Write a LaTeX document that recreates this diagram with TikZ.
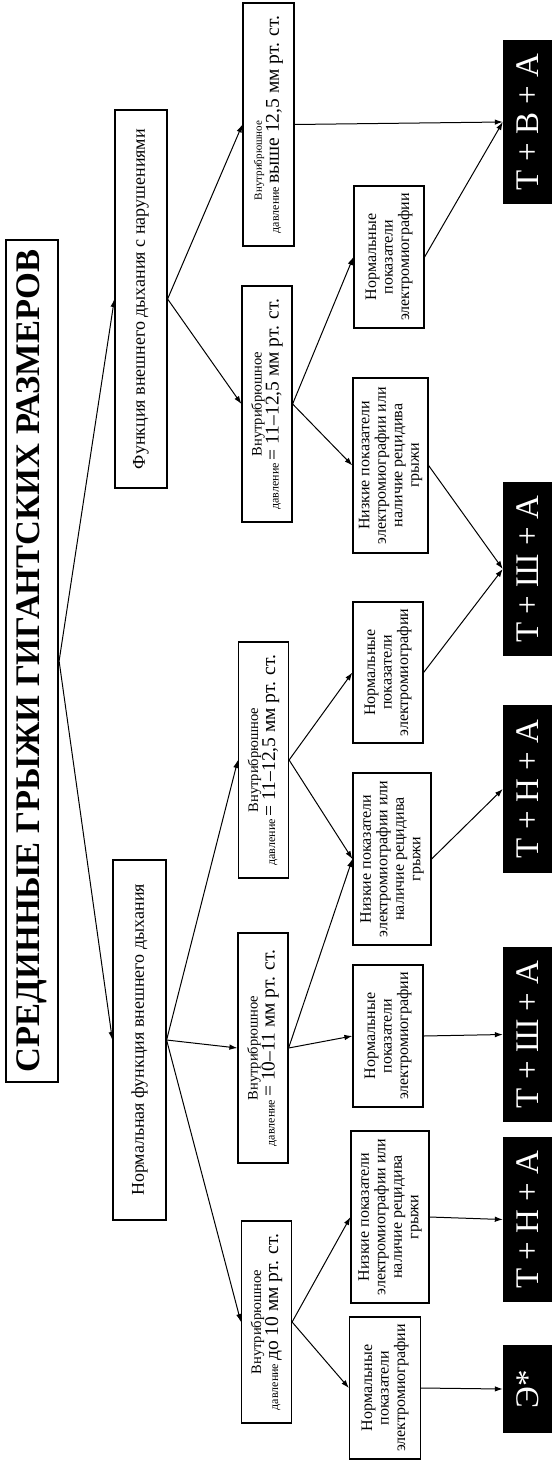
\documentclass[tikz,border=0pt]{standalone}
\usepackage{fontspec}
\setmainfont{Liberation Serif}
\usetikzlibrary{arrows.meta}
\newcommand{\bigpart}[1]{{\fontsize{19.5}{17}\selectfont #1}}
\newcommand{\vnutr}{{\fontsize{14.5}{17}\selectfont Внутрибрюшное}}
\begin{document}
\begin{tikzpicture}[x=1pt,y=-1pt,
  bx/.style={draw,line width=1.2pt,rotate=90,inner sep=0pt,align=center},
  ttl/.style={bx,line width=2.2pt,font=\fontsize{34.5}{35}\selectfont\bfseries},
  lone/.style={bx,font=\fontsize{18}{20}\selectfont},
  ltwo/.style={bx,font=\fontsize{12}{17}\selectfont},
  lthree/.style={bx,font=\fontsize{16}{16.5}\selectfont},
  res/.style={fill=black,text=white,rotate=90,inner sep=0pt,minimum height=49pt,font=\fontsize{33}{33}\selectfont},
  arr/.style={line width=1pt,-{Latex[length=8pt,width=5.5pt]}}]
\useasboundingbox (0,0) rectangle (552,1461);

% title
\node[ttl,minimum width=842pt,minimum height=52pt] (title) at (32,661) {СРЕДИННЫЕ ГРЫЖИ ГИГАНТСКИХ РАЗМЕРОВ};

% level 1
\node[lone,minimum width=378pt,minimum height=52pt] (f1) at (141,299) {Функция внешнего дыхания с нарушениями};
\node[lone,minimum width=360pt,minimum height=53pt] (f2) at (139.5,1040) {Нормальная функция внешнего дыхания};

% level 2
\node[ltwo,minimum width=243pt,minimum height=51pt] (p1) at (268.5,124.5) {\hspace*{-72pt}{\fontsize{11}{17}\selectfont Внутрибрюшное}\\давление \bigpart{выше 12,5 мм рт. ст.}};
\node[ltwo,minimum width=236pt,minimum height=50pt] (p2) at (267,404) {\vnutr\\давление \bigpart{= 11–12,5 мм рт. ст.}};
\node[ltwo,minimum width=236pt,minimum height=50pt] (p3) at (263.5,760) {\vnutr\\давление \bigpart{= 11–12,5 мм рт. ст.}};
\node[ltwo,minimum width=230pt,minimum height=50pt] (p4) at (263,1048) {\vnutr\\давление \bigpart{= 10–11 мм рт. ст.}};
\node[ltwo,minimum width=202pt,minimum height=50pt] (p5) at (266.5,1322) {\vnutr\\давление \bigpart{до 10 мм рт. ст.}};

% level 3
\node[lthree,minimum width=142pt,minimum height=70pt] (e1) at (389,257) {Нормальные\\показатели\\электромиографии};
\node[lthree,minimum width=175pt,minimum height=75pt] (e2) at (390.5,465.5) {Низкие показатели\\электромиографии или\\наличие рецидива\\грыжи};
\node[lthree,minimum width=141pt,minimum height=70pt] (e3) at (388,672.5) {Нормальные\\показатели\\электромиографии};
\node[lthree,minimum width=172pt,minimum height=78pt] (e4) at (392,859) {Низкие показатели\\электромиографии или\\наличие рецидива\\грыжи};
\node[lthree,minimum width=142pt,minimum height=70pt] (e5) at (388,1036) {Нормальные\\показатели\\электромиографии};
\node[lthree,minimum width=172pt,minimum height=78pt] (e6) at (390,1217) {Низкие показатели\\электромиографии или\\наличие рецидива\\грыжи};
\node[lthree,minimum width=142pt,minimum height=71pt] (e7) at (385,1388) {Нормальные\\показатели\\электромиографии};

% results
\node[res,minimum width=164pt] (r1) at (527.5,122) {Т + В + А};
\node[res,minimum width=174pt] (r2) at (527.5,569) {Т + Ш + А};
\node[res,minimum width=168pt] (r3) at (527.5,789) {Т + Н + А};
\node[res,minimum width=175pt] (r4) at (527.5,1034.5) {Т + Ш + А};
\node[res,minimum width=165pt] (r5) at (527.5,1219.5) {Т + Н + А};
\node[res,minimum width=88pt] (r6) at (527.5,1389) {Э*};

% connectors
\draw[arr] (title.south) -- (f1.north);
\draw[arr] (title.south) -- (f2.north);
\draw[arr] (f1.south) -- (p1.north);
\draw[arr] (f1.south) -- (p2.north);
\draw[arr] (f2.south) -- (p3.north);
\draw[arr] (f2.south) -- (p4.north);
\draw[arr] (f2.south) -- (p5.north);
\draw[arr] (p2.south) -- (e1.north);
\draw[arr] (p2.south) -- (e2.north);
\draw[arr] (p3.south) -- (e3.north);
\draw[arr] (p3.south) -- (e4.north);
\draw[arr] (p4.south) -- (e4.north);
\draw[arr] (p4.south) -- (e5.north);
\draw[arr] (p5.south) -- (e6.north);
\draw[arr] (p5.south) -- (e7.north);
\draw[arr] (p1.south) -- (r1.north);
\draw[arr] (e1.south) -- (r1.north);
\draw[arr] (e2.south) -- (r2.north);
\draw[arr] (e3.south) -- (r2.north);
\draw[arr] (e4.south) -- (r3.north);
\draw[arr] (e5.south) -- (r4.north);
\draw[arr] (e6.south) -- (r5.north);
\draw[arr] (e7.south) -- (r6.north);
\end{tikzpicture}
\end{document}
